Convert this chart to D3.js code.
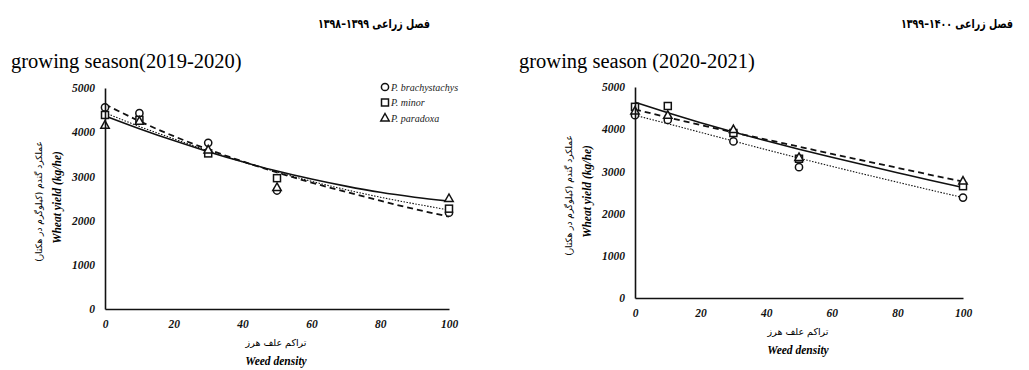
<!DOCTYPE html>
<html>
<head>
<meta charset="utf-8">
<script src="https://cdn.jsdelivr.net/npm/d3@7"></script>
<style>
  body { margin: 0; background: #fff; }
  svg { display: block; }
</style>
</head>
<body>
<svg id="chart" width="1029" height="370"></svg>
<script>
// weed densities where yield was measured
const densities = [0, 10, 30, 50, 100];
// x positions used to trace the fitted curves off the picture
const fitX = [0, 10, 20, 30, 40, 50, 60, 70, 80, 90, 100];
const speciesNames = ['P. brachystachys', 'P. minor', 'P. paradoxa'];
const yTicks = [0, 1000, 2000, 3000, 4000, 5000];
const xTicks = [0, 20, 40, 60, 80, 100];

// 2019-2020 observed yields (kg/ha)
const obs2019Brachy = [4560, 4430, 3760, 2680, 2180];
const obs2019Minor = [4390, 4280, 3520, 2960, 2270];
const obs2019Paradoxa = [4160, 4250, 3600, 2750, 2500];
// 2019-2020 fitted curves, read at fitX
const fit2019Brachy = [4630, 4250, 3910, 3610, 3340, 3090, 2860, 2650, 2450, 2260, 2090];
const fit2019Minor = [4440, 4130, 3850, 3580, 3330, 3100, 2890, 2700, 2530, 2380, 2240];
const fit2019Paradoxa = [4370, 4080, 3810, 3560, 3330, 3120, 2940, 2780, 2640, 2530, 2440];

// 2020-2021 observed yields (kg/ha)
const obs2020Brachy = [4330, 4220, 3710, 3100, 2380];
const obs2020Minor = [4530, 4550, 3910, 3300, 2650];
const obs2020Paradoxa = [4430, 4330, 3990, 3330, 2770];
// 2020-2021 fitted curves, read at fitX
const fit2020Brachy = [4330, 4130, 3925, 3720, 3515, 3315, 3120, 2930, 2745, 2560, 2380];
const fit2020Minor = [4640, 4390, 4155, 3935, 3725, 3525, 3335, 3150, 2970, 2790, 2620];
const fit2020Paradoxa = [4470, 4280, 4100, 3925, 3755, 3585, 3415, 3250, 3085, 2920, 2760];

const svg = d3.select('#chart');
const serif = '"Liberation Serif", "Times New Roman", serif';
const persian = '"DejaVu Sans", sans-serif';

const dashStyles = {solid: null, dotted: '1.5,1.5', dashed: '6,4'};
const strokeWidths = {solid: 1.6, dotted: 1.1, dashed: 1.8};

function drawMarker(g, shape, x, y) {
  if (shape == 'circle') {
    g.append('circle').attr('cx', x).attr('cy', y).attr('r', 3.6);
  } else if (shape == 'square') {
    g.append('rect').attr('x', x - 3.5).attr('y', y - 3.5)
     .attr('width', 7).attr('height', 7);
  } else {
    g.append('path')
     .attr('d', 'M' + x + ',' + (y - 4.5) + 'L' + (x + 4.2) + ',' + (y + 3) +
           'L' + (x - 4.2) + ',' + (y + 3) + 'Z');
  }
}

function drawPanel(p) {
  const x = d3.scaleLinear().domain([0, 100]).range([p.left, p.right]);
  const y = d3.scaleLinear().domain([0, 5000]).range([p.bottom, p.top]);
  const g = svg.append('g');

  // header and season title
  g.append('text')
   .attr('transform', 'translate(' + p.headerRight + ',28) scale(0.76,1)')
   .attr('text-anchor', 'end')
   .attr('font-family', persian).attr('font-weight', 'bold')
   .attr('font-size', 12.5)
   .text(p.header);
  g.append('text')
   .attr('x', p.titleLeft).attr('y', 68)
   .attr('font-family', serif).attr('font-size', 20.5)
   .text(p.title);

  // fitted curves
  const line = d3.line()
                 .x((d) => x(d[0]))
                 .y((d) => y(d[1]))
                 .curve(d3.curveMonotoneX);
  p.series.forEach((s) => {
    g.append('path')
     .attr('d', line(fitX.map((v, i) => [v, s.fit[i]])))
     .attr('fill', 'none')
     .attr('stroke', '#111')
     .attr('stroke-width', strokeWidths[s.dash])
     .attr('stroke-dasharray', dashStyles[s.dash]);
  });

  // observed points
  const marks = g.append('g')
                 .attr('fill', '#fff').attr('stroke', '#111')
                 .attr('stroke-width', 1.5);
  p.series.forEach((s) => {
    densities.forEach((d, i) => drawMarker(marks, s.shape, x(d), y(s.obs[i])));
  });

  // axes
  const xAxis = d3.axisBottom(x).tickValues(xTicks).tickSize(0).tickPadding(11)
                  .tickFormat(d3.format('d'));
  const yAxis = d3.axisLeft(y).tickValues(yTicks).tickSize(0).tickPadding(10)
                  .tickFormat(d3.format('d'));
  [g.append('g').attr('transform', 'translate(0,' + p.bottom + ')').call(xAxis),
   g.append('g').attr('transform', 'translate(' + p.left + ',0)').call(yAxis)]
    .forEach((a) => {
      a.attr('font-family', null);
      a.select('.domain').attr('stroke', '#111').attr('stroke-width', 1.6);
      a.selectAll('text')
       .attr('font-family', serif).attr('font-size', 11.5)
       .attr('font-weight', 'bold').attr('font-style', 'italic')
       .attr('fill', '#111');
    });

  // axis titles
  const xMid = (p.left + p.right) / 2 - 1;
  g.append('text')
   .attr('x', xMid).attr('y', p.bottom + 37)
   .attr('text-anchor', 'middle').attr('direction', 'rtl')
   .attr('font-family', persian).attr('font-size', 9.5)
   .text('تراکم علف هرز');
  g.append('text')
   .attr('x', xMid).attr('y', p.bottom + 56)
   .attr('text-anchor', 'middle')
   .attr('font-family', serif).attr('font-size', 11.5)
   .attr('font-weight', 'bold').attr('font-style', 'italic')
   .text('Weed density');
  const yMid = (p.top + p.bottom) / 2 - 1;
  g.append('text')
   .attr('transform', 'translate(' + (p.left - 47) + ',' + yMid + ') rotate(-90)')
   .attr('text-anchor', 'middle').attr('dominant-baseline', 'middle')
   .attr('font-family', serif).attr('font-size', 11.5)
   .attr('font-weight', 'bold').attr('font-style', 'italic')
   .text('Wheat yield (kg/he)');
  g.append('text')
   .attr('transform', 'translate(' + (p.left - 66) + ',' + (yMid + 4) + ') rotate(-90)')
   .attr('text-anchor', 'middle').attr('dominant-baseline', 'middle')
   .attr('direction', 'rtl')
   .attr('font-family', persian).attr('font-size', 9)
   .text('عملکرد گندم (کیلوگرم در هکتار)');

  if (p.legend) {
    const lg = g.append('g');
    speciesNames.forEach((name, i) => {
      const ly = p.legend.y + i * 15.5;
      const mk = lg.append('g').attr('fill', '#fff').attr('stroke', '#111')
                   .attr('stroke-width', 1.5);
      drawMarker(mk, p.series[i].shape, p.legend.x, ly);
      lg.append('text')
        .attr('x', p.legend.x + 6).attr('y', ly + 3.5)
        .attr('font-family', serif).attr('font-size', 10)
        .attr('font-style', 'italic').attr('fill', '#222')
        .text(name);
    });
  }
}

drawPanel({
  left: 105, right: 449, top: 88, bottom: 309,
  header: '۱۳۹۸–۱۳۹۹ فصل زراعی', headerRight: 430,
  title: 'growing season(2019-2020)', titleLeft: 11,
  legend: {x: 385, y: 87},
  series: [
    {shape: 'circle', obs: obs2019Brachy, fit: fit2019Brachy, dash: 'dashed'},
    {shape: 'square', obs: obs2019Minor, fit: fit2019Minor, dash: 'dotted'},
    {shape: 'triangle', obs: obs2019Paradoxa, fit: fit2019Paradoxa, dash: 'solid'},
  ],
});

drawPanel({
  left: 635, right: 963, top: 87, bottom: 298,
  header: '۱۳۹۹–۱۴۰۰ فصل زراعی', headerRight: 1013,
  title: 'growing season (2020-2021)', titleLeft: 519,
  legend: null,
  series: [
    {shape: 'circle', obs: obs2020Brachy, fit: fit2020Brachy, dash: 'dotted'},
    {shape: 'square', obs: obs2020Minor, fit: fit2020Minor, dash: 'solid'},
    {shape: 'triangle', obs: obs2020Paradoxa, fit: fit2020Paradoxa, dash: 'dashed'},
  ],
});
</script>
</body>
</html>
